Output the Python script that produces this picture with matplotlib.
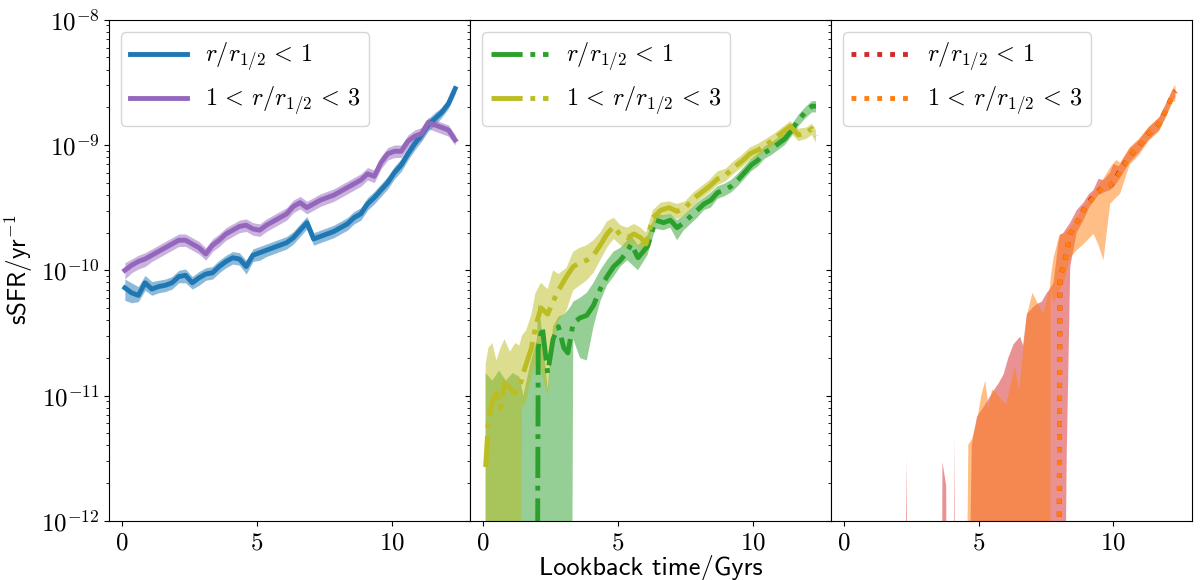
import numpy as np
import matplotlib
matplotlib.use("Agg")
import matplotlib.pyplot as plt
from matplotlib.ticker import FuncFormatter, FixedLocator

plt.rcParams['mathtext.fontset'] = 'cm'

# ---- data (log10 sSFR / yr^-1); -14 stands for "no star formation" ----
# panel 1
t1 = [0.1, 0.35, 0.6, 0.85, 1.1, 1.35, 1.6, 1.85, 2.1, 2.35, 2.6, 2.85, 3.1, 3.35, 3.6, 3.85,
      4.1, 4.35, 4.6, 4.85, 5.1, 5.35, 5.6, 5.85, 6.1, 6.35, 6.6, 6.85, 7.1, 7.35, 7.6, 7.85,
      8.1, 8.35, 8.6, 8.85, 9.1, 9.35, 9.6, 9.85, 10.1, 10.35, 10.6, 10.85, 11.1, 11.35, 11.6,
      11.85, 12.1, 12.35]
blue_med = [-10.14, -10.18, -10.20, -10.10, -10.15, -10.13, -10.12, -10.10, -10.05, -10.04,
            -10.10, -10.06, -10.03, -10.02, -9.97, -9.93, -9.90, -9.91, -9.97, -9.88, -9.86,
            -9.84, -9.82, -9.80, -9.78, -9.74, -9.68, -9.62, -9.75, -9.73, -9.71, -9.69, -9.66,
            -9.63, -9.58, -9.55, -9.47, -9.42, -9.36, -9.30, -9.22, -9.16, -9.07, -8.99, -8.92,
            -8.84, -8.79, -8.74, -8.67, -8.55]
blue_lo = [-10.24, -10.26, -10.25, -10.16, -10.20, -10.18, -10.17, -10.15, -10.10, -10.10,
           -10.15, -10.12, -10.08, -10.07, -10.02, -9.98, -9.95, -9.96, -10.03, -9.93, -9.92,
           -9.89, -9.87, -9.85, -9.83, -9.79, -9.73, -9.67, -9.80, -9.78, -9.76, -9.74, -9.71,
           -9.68, -9.63, -9.60, -9.52, -9.47, -9.41, -9.35, -9.27, -9.21, -9.12, -9.04, -8.97,
           -8.89, -8.84, -8.78, -8.71, -8.59]
blue_hi = [-10.07, -10.10, -10.13, -10.04, -10.09, -10.08, -10.07, -10.05, -10.00, -9.99,
           -10.05, -10.01, -9.98, -9.97, -9.92, -9.88, -9.85, -9.86, -9.92, -9.83, -9.81,
           -9.79, -9.77, -9.75, -9.73, -9.69, -9.63, -9.57, -9.70, -9.68, -9.66, -9.64, -9.61,
           -9.58, -9.53, -9.50, -9.42, -9.37, -9.31, -9.25, -9.17, -9.11, -9.02, -8.94, -8.87,
           -8.79, -8.74, -8.70, -8.63, -8.52]
purple_med = [-10.00, -9.96, -9.93, -9.91, -9.88, -9.85, -9.82, -9.79, -9.76, -9.76, -9.79,
              -9.82, -9.87, -9.80, -9.76, -9.71, -9.68, -9.65, -9.64, -9.67, -9.68, -9.64,
              -9.61, -9.58, -9.55, -9.49, -9.46, -9.50, -9.47, -9.44, -9.42, -9.40, -9.37,
              -9.34, -9.31, -9.28, -9.23, -9.25, -9.14, -9.07, -9.05, -9.05, -8.97, -8.93,
              -8.91, -8.82, -8.84, -8.86, -8.88, -8.96]
purple_lo = [-10.07, -10.02, -9.99, -9.97, -9.93, -9.90, -9.87, -9.84, -9.81, -9.81, -9.84,
             -9.87, -9.92, -9.85, -9.81, -9.76, -9.73, -9.70, -9.69, -9.72, -9.73, -9.69,
             -9.66, -9.63, -9.60, -9.54, -9.51, -9.55, -9.52, -9.49, -9.47, -9.45, -9.42,
             -9.39, -9.36, -9.33, -9.28, -9.30, -9.19, -9.12, -9.10, -9.10, -9.02, -8.98,
             -8.96, -8.87, -8.89, -8.91, -8.93, -9.00]
purple_hi = [-9.94, -9.91, -9.88, -9.86, -9.83, -9.80, -9.77, -9.74, -9.71, -9.71, -9.74,
             -9.77, -9.82, -9.75, -9.71, -9.66, -9.63, -9.60, -9.59, -9.62, -9.63, -9.59,
             -9.56, -9.53, -9.50, -9.44, -9.41, -9.45, -9.42, -9.39, -9.37, -9.35, -9.32,
             -9.29, -9.26, -9.23, -9.18, -9.20, -9.09, -9.02, -9.00, -9.00, -8.92, -8.88,
             -8.86, -8.78, -8.80, -8.82, -8.84, -8.92]

# panel 2
t2_green = [0.1, 0.35, 0.6, 0.85, 1.1, 1.35, 1.5, 1.75, 2.0, 2.05, 2.2, 2.4, 2.6, 2.8, 3.0,
            3.15, 3.28, 3.35, 3.6, 3.85, 4.1, 4.35, 4.6, 4.85, 5.1, 5.35, 5.5, 5.75, 6.1,
            6.4, 6.7, 6.95, 7.2, 7.45, 7.7, 7.95, 8.2, 8.45, 8.7, 8.95, 9.2, 9.45, 9.7, 9.95,
            10.2, 10.45, 10.7, 10.95, 11.2, 11.45, 11.7, 11.95, 12.2, 12.35]
green_med = [-14, -14, -14, -14, -14, -14, -14, -14, -14, -10.62, -10.45, -10.82, -10.55,
             -10.45, -10.62, -10.66, -10.50, -10.42, -10.38, -10.36, -10.28, -10.15, -10.05,
             -9.97, -9.92, -9.85, -9.79, -9.90, -9.81, -9.60, -9.62, -9.60, -9.66, -9.62,
             -9.57, -9.52, -9.47, -9.44, -9.38, -9.36, -9.33, -9.28, -9.22, -9.16, -9.12,
             -9.06, -9.03, -8.99, -8.95, -8.88, -8.80, -8.74, -8.69, -8.69]
green_lo = [-14, -14, -14, -14, -14, -14, -14, -14, -14, -14, -14, -14, -14, -14, -14, -14,
            -14, -10.55, -10.70, -10.72, -10.45, -10.25, -10.12, -10.05, -9.97, -9.92, -9.95,
            -10.00, -9.88, -9.67, -9.68, -9.66, -9.76, -9.68, -9.63, -9.58, -9.52, -9.50,
            -9.43, -9.41, -9.38, -9.33, -9.27, -9.21, -9.17, -9.11, -9.08, -9.04, -9.00,
            -8.93, -8.85, -8.79, -8.74, -8.74]
green_hi = [-10.82, -10.88, -10.80, -10.88, -10.82, -10.85, -11.00, -10.75, -10.55, -10.25,
            -10.50, -10.95, -10.45, -10.37, -10.35, -10.32, -10.28, -10.25, -10.22, -10.18,
            -10.10, -10.00, -9.92, -9.85, -9.82, -9.76, -9.72, -9.80, -9.72, -9.55, -9.56,
            -9.55, -9.60, -9.56, -9.51, -9.46, -9.42, -9.38, -9.33, -9.31, -9.28, -9.23,
            -9.17, -9.11, -9.07, -9.01, -8.98, -8.94, -8.91, -8.84, -8.76, -8.70, -8.65, -8.65]
t2_olive = [0.1, 0.2, 0.35, 0.5, 0.65, 0.8, 1.0, 1.2, 1.35, 1.45, 1.6, 1.8, 1.95, 2.15, 2.4,
            2.6, 2.8, 3.1, 3.35, 3.6, 3.85, 4.1, 4.35, 4.6, 4.85, 5.1, 5.35, 5.6, 5.85, 6.05,
            6.3, 6.6, 6.9, 7.2, 7.5, 7.8, 8.1, 8.4, 8.7, 9.0, 9.3, 9.6, 9.9, 10.2, 10.5, 10.8,
            11.1, 11.4, 11.7, 12.0, 12.2, 12.35]
olive_med = [-11.57, -11.20, -11.05, -10.98, -11.10, -10.90, -10.94, -10.98, -10.95, -10.85,
             -10.75, -10.62, -10.45, -10.30, -10.35, -10.25, -10.16, -10.05, -9.97, -9.94,
             -9.92, -9.88, -9.80, -9.71, -9.65, -9.72, -9.74, -9.71, -9.74, -9.79, -9.58,
             -9.52, -9.50, -9.53, -9.50, -9.43, -9.38, -9.33, -9.27, -9.24, -9.18, -9.13,
             -9.07, -9.04, -9.00, -8.95, -8.90, -8.85, -8.92, -8.90, -8.87, -8.93]
olive_lo = [-14, -14, -14, -14, -14, -14, -14, -14, -14, -11.10, -11.05, -10.85, -10.75,
            -10.80, -11.00, -10.60, -10.40, -10.32, -10.16, -10.12, -10.08, -10.02, -9.92,
            -9.82, -9.75, -9.80, -9.82, -9.79, -9.83, -9.88, -9.65, -9.58, -9.56, -9.59,
            -9.56, -9.49, -9.43, -9.38, -9.32, -9.29, -9.23, -9.18, -9.12, -9.09, -9.05,
            -9.00, -8.95, -8.90, -8.97, -8.95, -8.92, -8.98]
olive_hi = [-10.75, -10.62, -10.58, -10.72, -10.62, -10.55, -10.65, -10.58, -10.60, -10.52,
            -10.48, -10.35, -10.18, -10.10, -10.15, -10.00, -10.03, -9.98, -9.85, -9.82,
            -9.80, -9.76, -9.70, -9.61, -9.58, -9.64, -9.66, -9.63, -9.66, -9.70, -9.52,
            -9.46, -9.45, -9.47, -9.45, -9.38, -9.33, -9.28, -9.21, -9.19, -9.13, -9.08,
            -9.02, -8.99, -8.95, -8.91, -8.86, -8.81, -8.87, -8.86, -8.83, -8.88]

# panel 3
t3_red = [0.1, 2.25, 2.33, 2.41, 3.62, 3.66, 3.80, 3.84, 4.05, 4.10, 4.15, 4.55, 4.75, 4.94,
          5.25, 5.56, 5.75, 5.93, 6.1, 6.3, 6.54, 6.65, 6.79, 7.0, 7.16, 7.35, 7.53, 7.65,
          7.78, 7.96, 8.02, 8.15, 8.27, 8.4, 8.64, 8.89, 9.1, 9.26, 9.45, 9.63, 9.88, 10.0,
          10.2, 10.6, 10.95, 11.3, 11.7, 11.95, 12.2, 12.3]
red_med = [-14, -14, -14, -14, -14, -14, -14, -14, -14, -14, -14, -14, -14, -14, -14, -14,
           -14, -14, -14, -14, -14, -14, -14, -14, -14, -14, -14, -14, -14, -14, -10.05,
           -9.97, -9.85, -9.71, -9.62, -9.52, -9.45, -9.41, -9.37, -9.33, -9.32, -9.30,
           -9.22, -9.09, -9.01, -8.91, -8.83, -8.72, -8.60, -8.57]
red_lo = [-14, -14, -14, -14, -14, -14, -14, -14, -14, -14, -14, -14, -14, -14, -14, -14,
          -14, -14, -14, -14, -14, -14, -14, -14, -14, -14, -14, -14, -14, -14, -14, -14,
          -11.47, -9.97, -9.70, -9.60, -9.50, -9.45, -9.40, -9.38, -9.36, -9.34, -9.28,
          -9.14, -9.06, -8.96, -8.88, -8.77, -8.64, -8.62]
red_hi = [-14, -14, -11.50, -14, -14, -11.53, -11.72, -14, -14, -11.30, -14, -14, -11.39,
          -11.17, -11.07, -10.96, -10.90, -10.83, -10.70, -10.59, -10.53, -10.60, -10.35,
          -10.30, -10.27, -10.25, -10.18, -10.15, -10.10, -9.78, -9.72, -9.70, -9.66, -9.62,
          -9.52, -9.46, -9.39, -9.36, -9.27, -9.28, -9.22, -9.15, -9.17, -9.03, -8.96,
          -8.86, -8.78, -8.67, -8.56, -8.55]
t3_orange = [0.1, 4.5, 4.62, 4.75, 4.94, 5.1, 5.25, 5.37, 5.5, 5.6, 5.8, 6.03, 6.2, 6.35,
             6.5, 6.8, 7.0, 7.16, 7.4, 7.65, 7.68, 7.78, 7.96, 8.02, 8.16, 8.4, 8.64, 8.9,
             9.26, 9.45, 9.63, 9.88, 10.1, 10.25, 10.6, 10.95, 11.3, 11.7, 11.95, 12.2, 12.3]
orange_med = [-14, -14, -14, -14, -14, -14, -14, -14, -14, -14, -14, -14, -14, -14, -14,
              -14, -14, -14, -14, -14, -14, -14, -14, -10.05, -9.97, -9.71, -9.62, -9.52,
              -9.42, -9.38, -9.33, -9.32, -9.26, -9.22, -9.09, -9.01, -8.91, -8.83, -8.72,
              -8.60, -8.57]
orange_lo = [-14, -14, -14, -14, -14, -14, -14, -14, -14, -14, -14, -14, -14, -14, -14, -14,
             -14, -14, -14, -14, -10.16, -10.25, -10.20, -10.15, -10.10, -9.90, -9.84,
             -9.79, -9.71, -9.80, -9.92, -9.47, -9.42, -9.39, -9.16, -9.08, -8.97, -8.89,
             -8.78, -8.66, -8.65]
orange_hi = [-14, -14, -11.39, -11.35, -11.20, -11.00, -10.88, -11.10, -10.95, -10.97,
             -11.02, -11.07, -10.90, -10.77, -10.96, -10.35, -10.18, -10.25, -10.35, -10.13,
             -10.05, -9.90, -9.75, -9.71, -9.71, -9.66, -9.58, -9.49, -9.38, -9.32, -9.27,
             -9.18, -9.12, -9.14, -9.02, -8.95, -8.86, -8.78, -8.68, -8.55, -8.52]

lab_in = r'$r/r_{1/2}\,<\,1$'
lab_out = r'$1\,<\,r/r_{1/2}\,<\,3$'

panels = [
    [(t1, blue_med, blue_lo, blue_hi, 'tab:blue', '-', lab_in),
     (t1, purple_med, purple_lo, purple_hi, 'tab:purple', '-', lab_out)],
    [(t2_green, green_med, green_lo, green_hi, 'tab:green', '-.', lab_in),
     (t2_olive, olive_med, olive_lo, olive_hi, 'tab:olive', '-.', lab_out)],
    [(t3_red, red_med, red_lo, red_hi, 'tab:red', ':', lab_in),
     (t3_orange, orange_med, orange_lo, orange_hi, 'tab:orange', ':', lab_out)],
]

fig, axes = plt.subplots(1, 3, sharey=True, figsize=(12, 5.8), dpi=100)
fig.subplots_adjust(left=0.091, right=0.993, top=0.966, bottom=0.102, wspace=0)

for ax, series in zip(axes, panels):
    for t, med, lo, hi, col, ls, lab in series:
        ax.fill_between(t, 10 ** np.array(lo, float), 10 ** np.array(hi, float),
                        color=col, alpha=0.5, lw=0)
    for t, med, lo, hi, col, ls, lab in series:
        ax.plot(t, 10 ** np.array(med, float), color=col, ls=ls, lw=3.5, label=lab)
    ax.set_yscale('log')
    ax.set_ylim(1e-12, 1e-8)
    ax.set_xlim(-0.48, 12.9)
    ax.xaxis.set_major_locator(FixedLocator([0, 5, 10]))
    ax.xaxis.set_major_formatter(FuncFormatter(lambda v, p: r'$\mathrm{%d}$' % v))
    ax.tick_params(labelsize=18)
    ax.legend(loc='upper left', fontsize=17.5, handlelength=2.35, handletextpad=0.75,
              borderpad=0.35, labelspacing=0.45)

axes[0].yaxis.set_major_formatter(
    FuncFormatter(lambda v, p: r'$\mathrm{10^{%d}}$' % round(np.log10(v))))
axes[0].set_ylabel(r'sSFR/yr$^{-1}$', fontsize=18, family='cmss10')
axes[1].set_xlabel('Lookback time/Gyrs', fontsize=19, family='cmss10', labelpad=0)

fig.savefig('out.png')
